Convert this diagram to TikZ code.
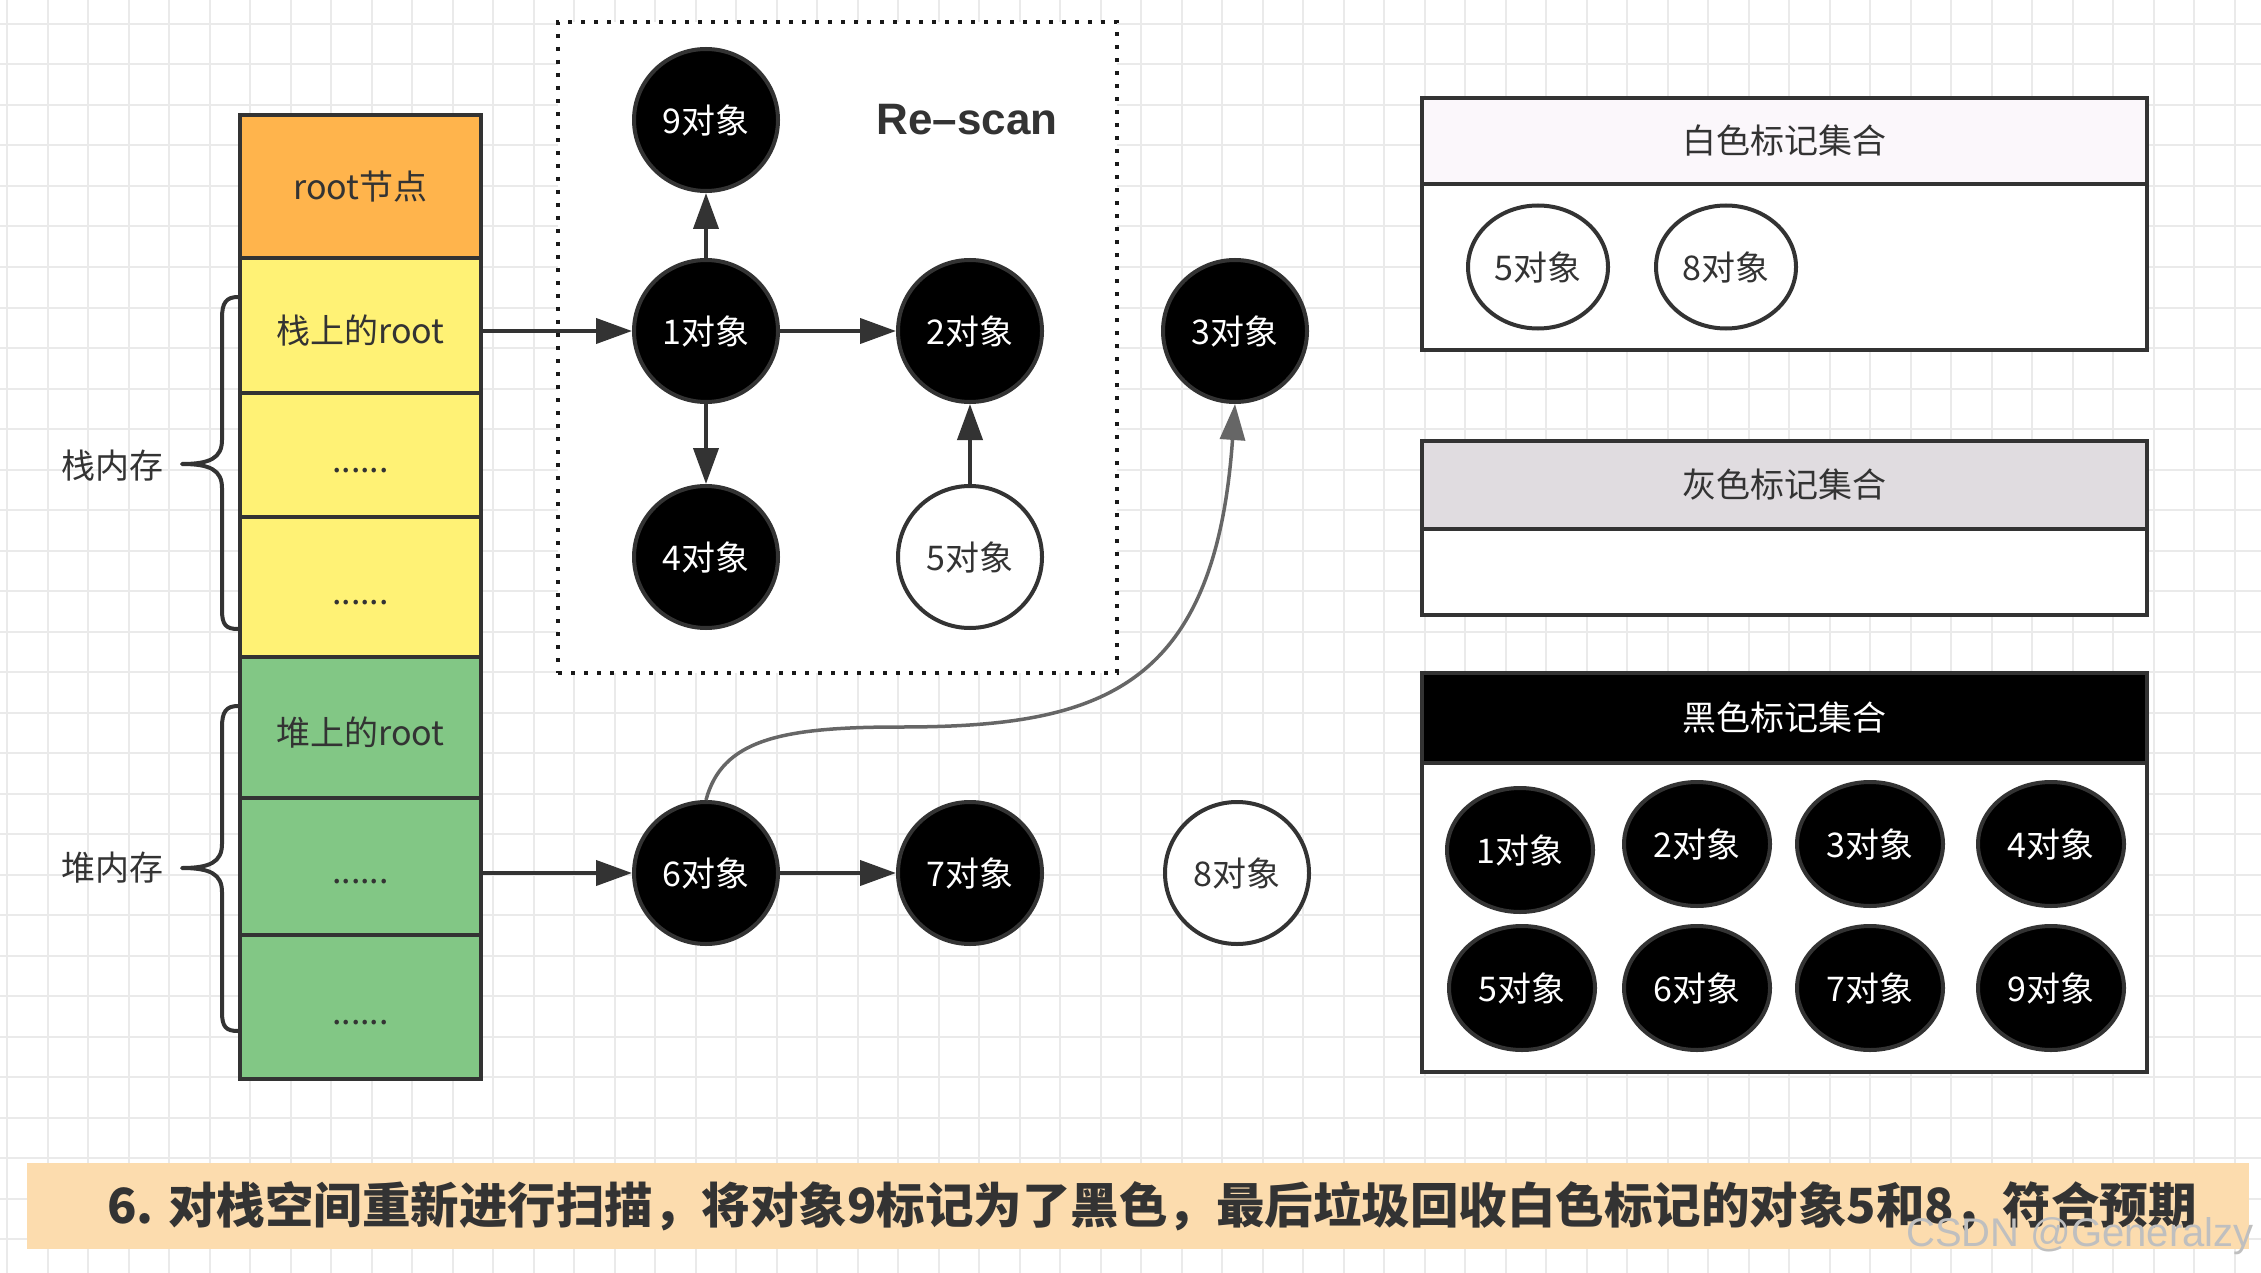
\documentclass[tikz,border=0pt]{standalone}
\usepackage{fontspec}
\setmainfont{Noto Sans CJK SC}
\newfontfamily\latin{Liberation Sans}
\usetikzlibrary{shapes.geometric,arrows.meta}
\definecolor{ln}{HTML}{333333}
\definecolor{txt}{HTML}{333333}
\definecolor{gridc}{HTML}{EAEAEA}
\definecolor{rootc}{HTML}{FFB44C}
\definecolor{yelc}{HTML}{FFF275}
\definecolor{grnc}{HTML}{82C785}
\definecolor{whiteh}{HTML}{FBF7FB}
\definecolor{greyh}{HTML}{E0DCE0}
\definecolor{banc}{HTML}{FCDCAE}
\definecolor{curvc}{HTML}{666666}
\newcommand\fs[1]{\fontsize{#1}{#1}\selectfont}
\newcommand\lowdots{\raisebox{-17pt}[0pt][0pt]{......}}
\newcommand\lowtxt[1]{\raisebox{-18pt}[0pt][0pt]{#1}}
\tikzset{
  cell/.style={draw=ln, line width=4pt, minimum width=241pt, inner sep=0pt, text=txt, font=\fs{34}},
  obj/.style={ellipse, draw=ln, line width=4pt, fill=black, text=white, inner sep=0pt,
    minimum width=144pt, minimum height=142pt, font=\fs{34}},
  wobj/.style={obj, fill=white, text=txt},
  setobj/.style={obj, minimum width=146pt, minimum height=124pt},
  wsetobj/.style={wobj, minimum width=140pt, minimum height=123pt},
  hdr/.style={draw=ln, line width=4pt, minimum width=725pt, inner sep=0pt, text=txt, font=\fs{34}},
  bodybox/.style={draw=ln, line width=4pt, minimum width=725pt, inner sep=0pt, fill=white},
  arr/.style={draw=ln, line width=4pt, -{Triangle[length=36pt,width=25pt]}},
  brace/.style={draw=ln, line width=4pt, line join=round},
  lbl/.style={text=txt, font=\fs{34}, inner sep=0pt}
}
\begin{document}
\begin{tikzpicture}[x=1pt,y=-1pt]
\useasboundingbox (0,0) rectangle (2261,1273);
\fill[white] (0,0) rectangle (2261,1273);
% grid
\foreach \i in {0,...,55} \draw[gridc, line width=2pt] (7+\i*40.5,0) -- (7+\i*40.5,1273);
\foreach \j in {0,...,30} \draw[gridc, line width=2pt] (0,24+\j*40.5) -- (2261,24+\j*40.5);

% dotted re-scan box
\node[draw=black!90, dash pattern=on 4pt off 9pt, line width=4pt, fill=white,
  minimum width=559pt, minimum height=651pt, inner sep=0pt] (scan) at (837.5,347.5) {};
\node[font=\latin\bfseries\fs{44}, text=txt, inner sep=0pt] (rescan) at (967,120) {Re–scan};

% column
\node[cell, fill=rootc, minimum height=143pt] (c0) at (360.5,186.5) {root节点};
\node[cell, fill=yelc, minimum height=135pt] (c1) at (360.5,325.5) {\lowtxt{栈上的root}};
\node[cell, fill=yelc, minimum height=124pt] (c2) at (360.5,455) {\lowdots};
\node[cell, fill=yelc, minimum height=140pt] (c3) at (360.5,587) {\lowdots};
\node[cell, fill=grnc, minimum height=141pt] (c4) at (360.5,727.5) {\lowtxt{堆上的root}};
\node[cell, fill=grnc, minimum height=137pt] (c5) at (360.5,866.5) {\lowdots};
\node[cell, fill=grnc, minimum height=144pt] (c6) at (360.5,1007) {\lowdots};

% braces and labels
\draw[brace] (238,297) .. controls (226,297) and (222,303) .. (222,318) -- (222,440)
  .. controls (222,458) and (210,464) .. (182,464)
  .. controls (210,464) and (222,470) .. (222,488) -- (222,610)
  .. controls (222,625) and (226,629) .. (238,629);
\draw[brace] (238,706) .. controls (226,706) and (222,712) .. (222,727) -- (222,844)
  .. controls (222,862) and (210,868) .. (182,868)
  .. controls (210,868) and (222,874) .. (222,892) -- (222,1012)
  .. controls (222,1027) and (226,1031) .. (238,1031);
\node[lbl] (lstack) at (112,466) {栈内存};
\node[lbl] (lheap) at (112,868) {堆内存};

% objects
\node[obj] (o9) at (706,120) {9对象};
\node[obj] (o1) at (706,331) {1对象};
\node[obj] (o2) at (970,331) {2对象};
\node[obj] (o4) at (706,557) {4对象};
\node[wobj] (o5) at (970,557) {5对象};
\node[obj] (o3) at (1235,331) {3对象};
\node[obj] (o6) at (706,873) {6对象};
\node[obj] (o7) at (970,873) {7对象};
\node[wobj] (o8) at (1237,873) {8对象};

% arrows
\draw[arr] (c1.east |- o1) -- (o1);
\draw[arr] (o1) -- (o2);
\draw[arr] (o1) -- (o9);
\draw[arr] (o1) -- (o4);
\draw[arr] (o5) -- (o2);
\draw[arr] (c5.east |- o6) -- (o6);
\draw[arr] (o6) -- (o7);
\coordinate (cm) at (900,727);
\draw[draw=curvc, line width=3.5pt, -{Triangle[length=36pt,width=25pt]}]
  (o6.north) .. controls (722,740) and (780,727) .. (cm)
  .. controls (1100,727) and (1215,690) .. (o3.south);

% white set
\node[hdr, fill=whiteh, minimum height=86pt] (wh) at (1784.5,141) {白色标记集合};
\node[bodybox, minimum height=166pt] (wb) at (1784.5,267) {};
\node[wsetobj] (w5) at (1538,267) {5对象};
\node[wsetobj] (w8) at (1726,267) {8对象};

% grey set
\node[hdr, fill=greyh, minimum height=88pt] (gh) at (1784.5,485) {灰色标记集合};
\node[bodybox, minimum height=86pt] (gb) at (1784.5,572) {};

% black set
\node[hdr, fill=black, text=white, minimum height=90pt] (bh) at (1784.5,718) {黑色标记集合};
\node[bodybox, minimum height=309pt] (bb) at (1784.5,917.5) {};
\node[setobj] (b1) at (1520,850) {1对象};
\node[setobj] (b2) at (1697,844) {2对象};
\node[setobj] (b3) at (1870,844) {3对象};
\node[setobj] (b4) at (2051,844) {4对象};
\node[setobj] (b5) at (1522,988) {5对象};
\node[setobj] (b6) at (1697,988) {6对象};
\node[setobj] (b7) at (1870,988) {7对象};
\node[setobj] (b9) at (2051,988) {9对象};

% banner
\node[fill=banc, minimum width=2222pt, minimum height=86pt, inner sep=0pt] (ban) at (1138,1206) {};
\node[font=\bfseries\fs{48.5}, text=txt, inner sep=0pt] (bantext) at (1152,1206)
  {6. 对栈空间重新进行扫描，将对象9标记为了黑色，最后垃圾回收白色标记的对象5和8，符合预期};
\node[font=\latin\fs{40}, text=black!25, inner sep=0pt] (wm) at (2080,1236) {CSDN @Generalzy};
\end{tikzpicture}
\end{document}
